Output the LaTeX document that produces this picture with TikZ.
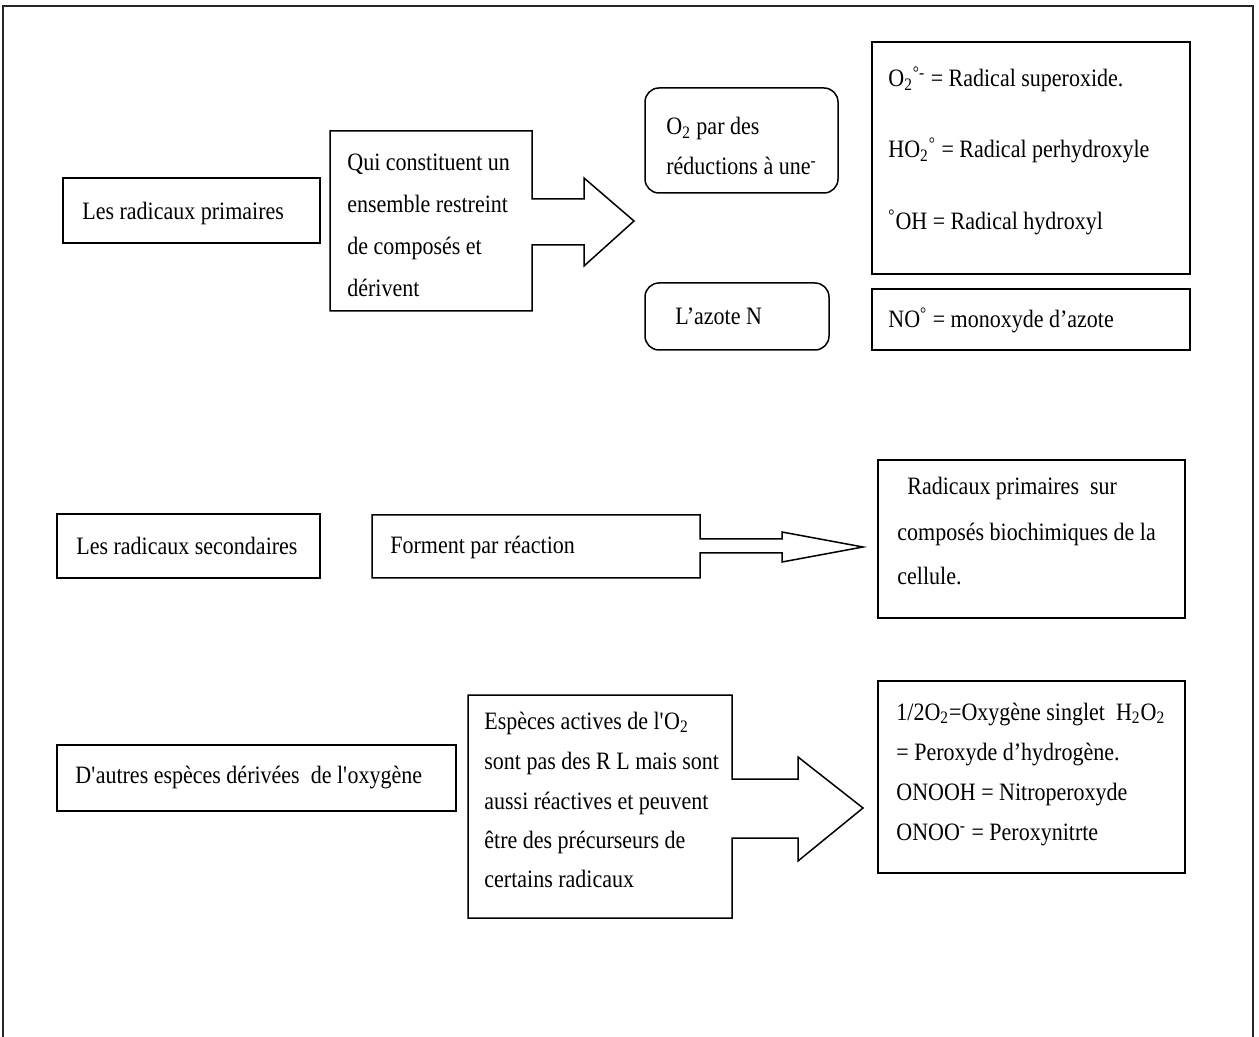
\documentclass[tikz,border=0pt]{standalone}
\usepackage{fontspec}
\setmainfont[FakeStretch=0.88]{Liberation Serif}
\usetikzlibrary{fit}
\newcommand{\sub}[1]{\textsubscript{#1}}
\newcommand{\sups}[1]{\textsuperscript{#1}}
\begin{document}
\begin{tikzpicture}[x=0.5pt,y=-0.5pt,
  box/.style={draw=black, line width=0.75pt, inner sep=0pt},
  rbox/.style={box, rounded corners=7pt},
  txt/.style={anchor=base west, inner sep=0pt, font=\fontsize{12.5}{14}\selectfont},
  blockarrow/.style={draw=black, line width=0.75pt, line join=miter}]
\useasboundingbox (0,0) rectangle (1259,1037);
\fill[white] (0,0) rectangle (1259,1037);
% outer frame (open at the bottom of the picture)
\draw[line width=0.9pt, draw=black!85] (3,1045) -- (3,6) -- (1253,6) -- (1253,1045);

% ---------- row 1 ----------
\node[box, fit={(63,178) (320,243)}] (prim) {};
\node[txt] (primT) at (82,220) {Les radicaux primaires};

\draw[blockarrow] (330,131) -- (532,131) -- (532,199) -- (584,199) -- (584,178)
  -- (634,221) coordinate (tipA) -- (584,266) -- (584,245) -- (532,245) -- (532,311) -- (330,311) -- cycle;
\node[txt] (qa) at (347,171) {Qui constituent un};
\node[txt] (qb) at (347,213) {ensemble restreint};
\node[txt] (qc) at (347,255) {de composés et};
\node[txt] (qd) at (347,297) {dérivent};

\node[rbox, fit={(645,88) (838,193)}] (oxy) {};
\node[txt] (oxyA) at (666,135) {O\sub{2} par des};
\node[txt] (oxyB) at (666,175) {réductions à une\sups{-}};

\node[rbox, fit={(645,283) (829,350)}] (azo) {};
\node[txt] (azoT) at (675,325) {L’azote N};

\node[box, fit={(872,42) (1190,274)}] (rad) {};
\node[txt] (radA) at (888,87) {O\sub{2}\sups{°-} = Radical superoxide.};
\node[txt] (radB) at (888,158) {HO\sub{2}\sups{°} = Radical perhydroxyle};
\node[txt] (radC) at (888,230) {\sups{°}OH = Radical hydroxyl};

\node[box, fit={(872,289) (1190,350)}] (no) {};
\node[txt] (noT) at (888,328) {NO\sups{°} = monoxyde d’azote};

% ---------- row 2 ----------
\node[box, fit={(57,514) (320,578)}] (sec) {};
\node[txt] (secT) at (76,555) {Les radicaux secondaires};

\draw[blockarrow] (372,515) -- (700,515) -- (700,539) -- (782,539) -- (782,532)
  -- (863,547) coordinate (tipB) -- (782,562) -- (782,553) -- (700,553) -- (700,578) -- (372,578) -- cycle;
\node[txt] (forT) at (390,553) {Forment par réaction};

\node[box, fit={(878,460) (1185,618)}] (bio) {};
\node[txt] (bioA) at (907,495) {Radicaux primaires\ \ sur};
\node[txt] (bioB) at (897,541) {composés biochimiques de la};
\node[txt] (bioC) at (897,584) {cellule.};

% ---------- row 3 ----------
\node[box, fit={(57,745) (456,811)}] (aut) {};
\node[txt] (autT) at (75,783) {D\textquotesingle autres espèces dérivées\ \ de l\textquotesingle oxygène};

\draw[blockarrow] (468,695) -- (732,695) -- (732,779) -- (798,779) -- (798,757)
  -- (863,808) coordinate (tipC) -- (798,861) -- (798,838) -- (732,838) -- (732,918) -- (468,918) -- cycle;
\node[txt] (espA) at (484,729) {Espèces actives de l\textquotesingle O\sub{2}};
\node[txt] (espB) at (484,769) {sont pas des R L mais sont};
\node[txt] (espC) at (484,809) {aussi réactives et peuvent};
\node[txt] (espD) at (484,848) {être des précurseurs\ de};
\node[txt] (espE) at (484,887) {certains radicaux};

\node[box, fit={(878,681) (1185,873)}] (ros) {};
\node[txt] (rosA) at (896,720) {1/2O\sub{2}=Oxygène singlet\ \ H\sub{2}O\sub{2}};
\node[txt] (rosB) at (896,760) {= Peroxyde d’hydrogène.};
\node[txt] (rosC) at (896,800) {ONOOH = Nitroperoxyde};
\node[txt] (rosD) at (896,840) {ONOO\sups{-} = Peroxynitrte};
\end{tikzpicture}
\end{document}
